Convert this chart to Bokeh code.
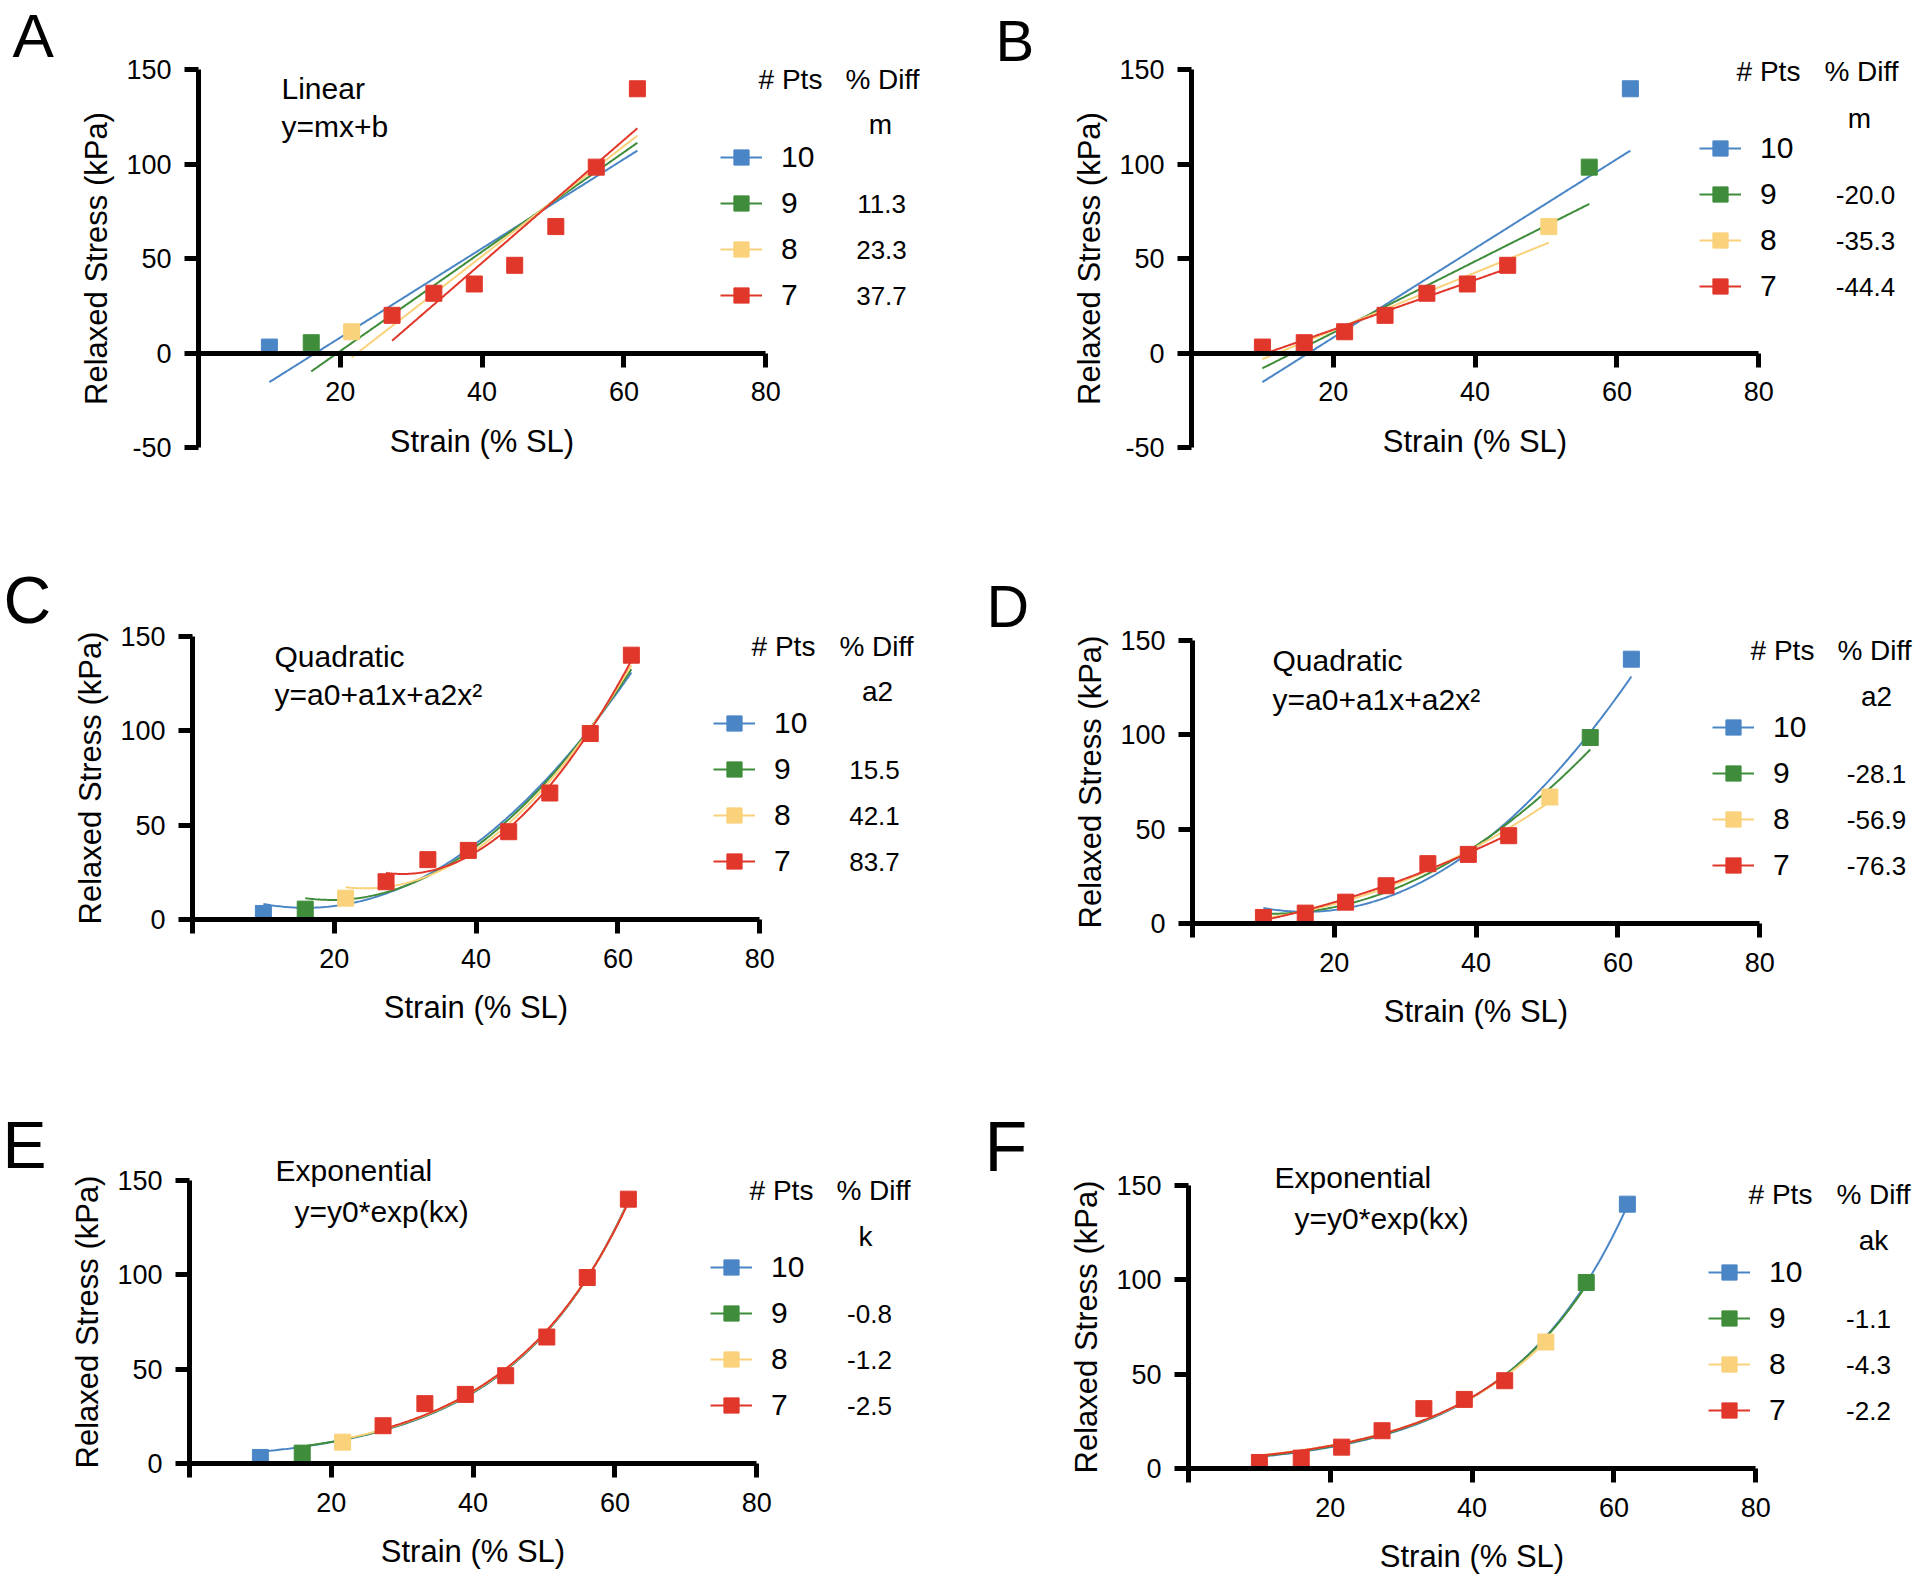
import numpy as np
from bokeh.plotting import figure
from bokeh.models import Range1d, Label, Legend, LegendItem, FixedTicker
from bokeh.layouts import column, row
from bokeh.core.properties import value
from bokeh.embed import file_html
from bokeh.resources import INLINE

# ---------------- data ----------------
strain = [10.0, 15.9, 21.6, 27.3, 33.2, 38.9, 44.6, 50.4, 56.1, 61.9]
stress = [3.2, 5.5, 11.3, 20.0, 31.7, 36.6, 46.5, 67.0, 98.5, 140.0]

n_pts = [10, 9, 8, 7]
n_labels = ["10", "9", "8", "7"]
series_colors = ["#4A86C6", "#3F8D3B", "#F9D27B", "#E1372B"]

diff_linear_last = ["", "11.3", "23.3", "37.7"]
diff_linear_first = ["", "-20.0", "-35.3", "-44.4"]
diff_quad_last = ["", "15.5", "42.1", "83.7"]
diff_quad_first = ["", "-28.1", "-56.9", "-76.3"]
diff_exp_last = ["", "-0.8", "-1.2", "-2.5"]
diff_exp_first = ["", "-1.1", "-4.3", "-2.2"]

x_ticks = [0, 20, 40, 60, 80]
y_ticks_neg = [-50, 0, 50, 100, 150]
y_ticks_pos = [0, 50, 100, 150]
y_tick_text = {-50: "-50"}

x_title = "Strain (% SL)"
y_title = "Relaxed Stress (kPa)"

# ---------------- styling / geometry ----------------
FONT = "Liberation Sans"
SX = 7.09    # px per strain unit
SY = 1.888   # px per kPa

panels = [
    dict(letter="A", letter_pos=(12, 35, 62), kind="linear", side="last",
         diffs=diff_linear_last, param="m",
         model=[("Linear", 281, 88), ("y=mx+b", 281, 126)],
         ymin=-50, page_x=0, page_y=0, W=960, H=560, X0=198, Y0=352.6,
         glyph_left=720, r1=157, pts=(790, 79), dif=(882, 79), sub=(880, 124), vcx=881),
    dict(letter="B", letter_pos=(995, 40, 58), kind="linear", side="first",
         diffs=diff_linear_first, param="m", model=[],
         ymin=-50, page_x=960, page_y=0, W=960, H=560, X0=1191, Y0=352.6,
         glyph_left=1699, r1=148, pts=(1768, 71), dif=(1861, 71), sub=(1859, 117.5), vcx=1865),
    dict(letter="C", letter_pos=(3, 599, 66), kind="quadratic", side="last",
         diffs=diff_quad_last, param="a2",
         model=[("Quadratic", 274, 656), ("y=a0+a1x+a2x\u00b2", 274, 694)],
         ymin=0, page_x=0, page_y=560, W=960, H=540, X0=192, Y0=919,
         glyph_left=713, r1=723, pts=(783, 645.5), dif=(876, 645.5), sub=(877, 691), vcx=874),
    dict(letter="D", letter_pos=(986, 606, 59), kind="quadratic", side="first",
         diffs=diff_quad_first, param="a2",
         model=[("Quadratic", 1272, 660), ("y=a0+a1x+a2x\u00b2", 1272, 699)],
         ymin=0, page_x=960, page_y=560, W=960, H=540, X0=1192, Y0=923,
         glyph_left=1712, r1=727, pts=(1782, 650), dif=(1874, 650), sub=(1876, 695.5), vcx=1876),
    dict(letter="E", letter_pos=(2, 1144, 66), kind="exponential", side="last",
         diffs=diff_exp_last, param="k",
         model=[("Exponential", 275, 1170), ("y=y0*exp(kx)", 294, 1211)],
         ymin=0, page_x=0, page_y=1100, W=960, H=477, X0=189, Y0=1463,
         glyph_left=710, r1=1267, pts=(781, 1190), dif=(873, 1190), sub=(865, 1236), vcx=869),
    dict(letter="F", letter_pos=(984, 1146, 70), kind="exponential", side="first",
         diffs=diff_exp_first, param="ak",
         model=[("Exponential", 1274, 1177), ("y=y0*exp(kx)", 1294, 1218)],
         ymin=0, page_x=960, page_y=1100, W=960, H=477, X0=1188, Y0=1468,
         glyph_left=1708, r1=1272, pts=(1780, 1194), dif=(1873, 1194), sub=(1873, 1240), vcx=1868),
]


def fit_curve(kind, xs, ys):
    xs = np.asarray(xs, float)
    ys = np.asarray(ys, float)
    xx = np.linspace(xs.min(), xs.max(), 200)
    if kind == "linear":
        c = np.polyfit(xs, ys, 1)
        return xx, np.polyval(c, xx)
    if kind == "quadratic":
        c = np.polyfit(xs, ys, 2)
        return xx, np.polyval(c, xx)
    # exponential y = y0*exp(k x), least squares (Gauss-Newton)
    k, lny0 = np.polyfit(xs, np.log(ys), 1)
    y0 = np.exp(lny0)
    for _ in range(300):
        e = np.exp(k * xs)
        r = ys - y0 * e
        J = np.column_stack([e, y0 * xs * e])
        d = np.linalg.lstsq(J, r, rcond=None)[0]
        y0 += d[0]
        k += d[1]
        if np.max(np.abs(d)) < 1e-12:
            break
    return xx, y0 * np.exp(k * xx)


def point_group(i, side):
    if side == "last":
        return max(7, 10 - i)
    return max(7, i + 1)


def make_panel(c):
    W, H = c["W"], c["H"]
    ymin = c["ymin"]

    def dx(px_):
        return (px_ - c["X0"]) / SX

    def dy(py_):
        return (c["Y0"] - py_) / SY

    # the frame covers the whole canvas; axes are pinned at x=0 / y=0
    p = figure(width=W, height=H,
               x_range=Range1d(dx(c["page_x"]), dx(c["page_x"] + W)),
               y_range=Range1d(dy(c["page_y"] + H), dy(c["page_y"])),
               output_backend="svg", toolbar_location=None, title=None,
               min_border_left=0, min_border_right=0, min_border_top=0, min_border_bottom=0)
    p.outline_line_color = None
    p.xgrid.visible = False
    p.ygrid.visible = False
    p.background_fill_color = "white"
    p.border_fill_color = "white"

    # axes
    p.xaxis.ticker = FixedTicker(ticks=x_ticks)
    p.xaxis.bounds = (0, 80)
    p.xaxis.major_label_overrides = {0: ""}
    p.xaxis.fixed_location = 0
    p.yaxis.ticker = FixedTicker(ticks=y_ticks_neg if ymin < 0 else y_ticks_pos)
    p.yaxis.bounds = (ymin, 150)
    p.yaxis.major_label_overrides = dict(y_tick_text)
    p.yaxis.fixed_location = 0
    for ax in p.axis:
        ax.axis_line_width = 5
        ax.axis_line_color = "black"
        ax.major_tick_line_width = 5
        ax.major_tick_line_color = "black"
        ax.major_tick_out = 14
        ax.major_tick_in = 0
        ax.minor_tick_line_color = None
        ax.major_label_text_font = FONT
        ax.major_label_text_font_size = "27px"
        ax.major_label_text_color = "black"
        ax.axis_label_text_font = FONT
        ax.axis_label_text_font_size = "31px"
        ax.axis_label_text_font_style = "normal"
        ax.axis_label_text_color = "black"
    p.xaxis.axis_label = x_title
    p.yaxis.axis_label = y_title
    p.xaxis.major_label_standoff = 15
    p.xaxis.axis_label_standoff = 19
    p.yaxis.major_label_standoff = 13
    p.yaxis.axis_label_standoff = 9

    # fitted curves
    line_rs = []
    for n, col in zip(n_pts, series_colors):
        sub = slice(10 - n, 10) if c["side"] == "last" else slice(0, n)
        xx, yy = fit_curve(c["kind"], strain[sub], stress[sub])
        line_rs.append(p.line(xx, yy, line_color=col, line_width=2))

    # points
    items = []
    for n, lab, col, lr in zip(n_pts, n_labels, series_colors, line_rs):
        sel = [i for i in range(10) if point_group(i, c["side"]) == n]
        sr = p.scatter([strain[i] for i in sel], [stress[i] for i in sel], marker="square",
                       size=16, fill_color=col, line_color=col)
        items.append(LegendItem(label=value(lab), renderers=[lr, sr]))

    # legend
    gh, sp = 38, 8
    leg_h = 4 * gh + 3 * sp
    leg_bottom_page = c["r1"] - gh / 2 + leg_h
    vx = c["glyph_left"] - c["page_x"]
    vy = (c["page_y"] + H) - leg_bottom_page
    leg = Legend(items=items, location=(vx, vy), orientation="vertical",
                 glyph_width=42, glyph_height=gh, label_height=gh, spacing=sp,
                 padding=0, margin=0, label_standoff=19,
                 label_text_font=FONT, label_text_font_size="30px", label_text_color="black",
                 background_fill_alpha=0, border_line_alpha=0)
    p.add_layout(leg)

    def txt(text, px_, py_, size, align="left", baseline="middle", font=FONT):
        p.add_layout(Label(x=dx(px_), y=dy(py_), text=text, text_font=font,
                           text_font_size=f"{size}px", text_align=align,
                           text_baseline=baseline, text_color="black"))

    # panel letter
    lx, ly, ls = c["letter_pos"]
    txt(c["letter"], lx, ly, ls)
    # model description
    for t, mx, my in c["model"]:
        txt(t, mx, my, 30)
    # legend table headers and values
    txt("# Pts", c["pts"][0], c["pts"][1], 28, align="center")
    txt("% Diff", c["dif"][0], c["dif"][1], 28, align="center")
    txt(c["param"], c["sub"][0], c["sub"][1], 28, align="center")
    for i, d in enumerate(c["diffs"]):
        if d:
            txt(d, c["vcx"], c["r1"] + i * (gh + sp), 26, align="center")
    return p


figs = [make_panel(c) for c in panels]
layout = column(row(figs[0], figs[1]), row(figs[2], figs[3]), row(figs[4], figs[5]))

open("out.html", "w").write(file_html(layout, INLINE, title="Relaxed stress fits"))
